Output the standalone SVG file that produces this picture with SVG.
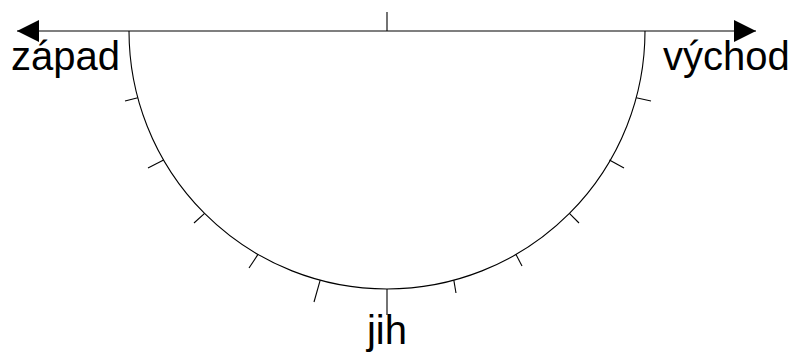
<svg xmlns="http://www.w3.org/2000/svg" width="795" height="354" viewBox="0 0 795 354">
<style>
.ln{stroke:#000;stroke-width:1.1;fill:none}
.lbl{font-family:"Liberation Sans",Arial,sans-serif;font-size:40px;fill:#000}
</style>
<defs>
<marker id="ah" markerUnits="userSpaceOnUse" markerWidth="22" markerHeight="22" viewBox="0 0 21 21" refX="21" refY="10.5" orient="auto-start-reverse">
<path d="M0,0 L21,10.5 L0,21 Z" fill="#000"/>
</marker>
</defs>
<rect width="795" height="354" fill="#fff"/>
<g id="axis">
<line class="ln" x1="17" y1="31" x2="756" y2="31" marker-start="url(#ah)" marker-end="url(#ah)"/>
<line class="ln" x1="387" y1="12" x2="387" y2="31"/>
</g>
<g id="arc">
<path class="ln" d="M129,31 A258,258 0 0 0 645,31"/>
</g>
<g id="ticks">
<line class="ln" x1="137.8" y1="97.8" x2="125" y2="101"/>
<line class="ln" x1="163.6" y1="160" x2="148" y2="168"/>
<line class="ln" x1="204.6" y1="213.4" x2="194" y2="223"/>
<line class="ln" x1="258" y1="254.4" x2="249" y2="268"/>
<line class="ln" x1="320.2" y1="280.2" x2="314" y2="302"/>
<line class="ln" x1="387" y1="289" x2="387" y2="315"/>
<line class="ln" x1="453.8" y1="280.2" x2="456" y2="293"/>
<line class="ln" x1="516" y1="254.4" x2="522" y2="266"/>
<line class="ln" x1="569.4" y1="213.4" x2="579" y2="223"/>
<line class="ln" x1="609.4" y1="160" x2="624" y2="168"/>
<line class="ln" x1="636.2" y1="97.8" x2="651" y2="101"/>
</g>
<g id="labels">
<text class="lbl" x="11" y="70">západ</text>
<text class="lbl" x="663" y="70">východ</text>
<text class="lbl" x="387" y="344" text-anchor="middle" font-size="39">jih</text>
</g>
</svg>
